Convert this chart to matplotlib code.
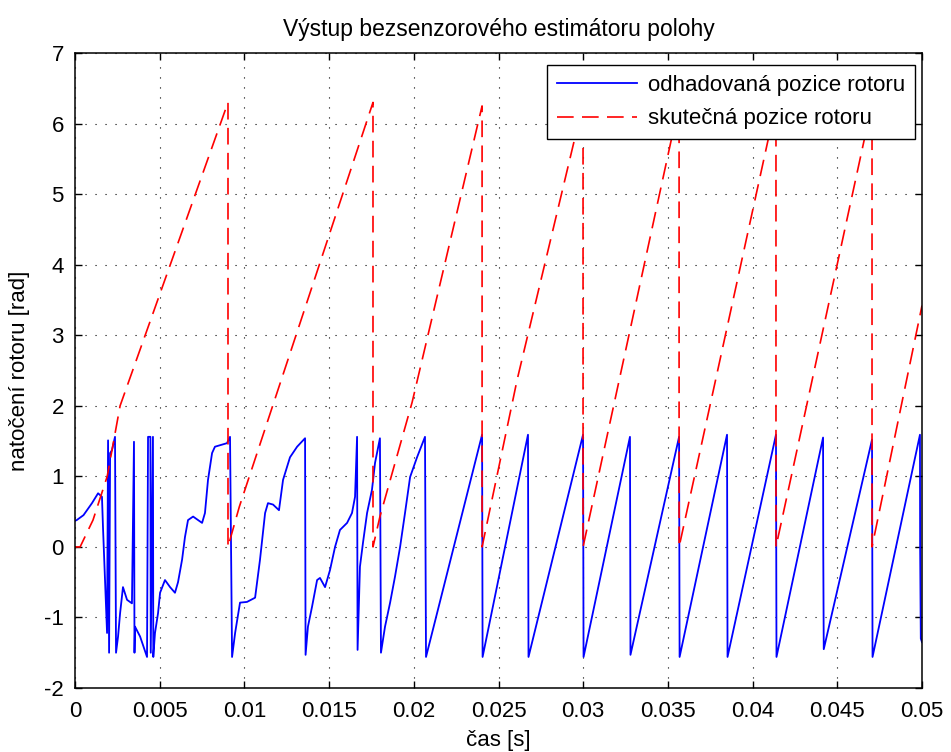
import matplotlib.pyplot as plt
import numpy as np

plt.rcParams['font.family'] = ['Liberation Sans', 'DejaVu Sans']
plt.rcParams['axes.unicode_minus'] = False

# odhadovana pozice rotoru (cas [s], uhel [rad])
t_est = [0, 0.0001, 0.0005, 0.001, 0.00136, 0.00159, 0.00165, 0.00177, 0.00189,
         0.00195, 0.00201, 0.00207, 0.00218, 0.00236, 0.00242, 0.00254, 0.00266,
         0.00283, 0.00307, 0.00336, 0.00348, 0.00351, 0.00354, 0.00384, 0.00425,
         0.00431, 0.00445, 0.00447, 0.0046, 0.00462, 0.00472, 0.0049, 0.00502, 0.00531, 0.00561,
         0.0059, 0.00608, 0.00632, 0.00649, 0.00667, 0.00697, 0.0075, 0.00767,
         0.00785, 0.00809, 0.00826, 0.00897, 0.00915, 0.00927, 0.00945, 0.00974,
         0.01015, 0.01063, 0.01092, 0.01122, 0.01139, 0.01169, 0.01204, 0.01228,
         0.01269, 0.01311, 0.01358, 0.01361, 0.01375, 0.01399, 0.01429, 0.01446,
         0.01476, 0.01505, 0.01535, 0.01564, 0.01606, 0.01635, 0.01653, 0.01665,
         0.01668, 0.01682, 0.017, 0.01724, 0.01753, 0.01771, 0.018, 0.01806,
         0.0183, 0.0186, 0.01889, 0.01919, 0.01948, 0.01978, 0.02019, 0.02066,
         0.02072,
         0.02403, 0.02406, 0.02674, 0.02677, 0.02999, 0.03002, 0.03276, 0.03279,
         0.03566, 0.03569, 0.03849, 0.03852, 0.04138, 0.04141, 0.04416, 0.04417,
         0.0442, 0.04705, 0.04708, 0.04988, 0.04989, 0.04993, 0.05]
y_est = [0.37, 0.38, 0.45, 0.62, 0.76, 0.71, 0.28, -0.47, -1.22,
         1.51, -1.5, 1.33, 1.37, 1.56, -1.5, -1.27, -0.94,
         -0.57, -0.75, -0.8, 1.49, -1.5, -1.13, -1.27, -1.56,
         1.56, 1.56, -1.5, 1.56, -1.56, -1.22, -0.94, -0.65, -0.47, -0.57,
         -0.65, -0.5, -0.18, 0.14, 0.38, 0.43, 0.34, 0.48,
         0.95, 1.33, 1.42, 1.47, 1.56, -1.56, -1.22, -0.79,
         -0.78, -0.72, -0.18, 0.48, 0.62, 0.6, 0.52, 0.95,
         1.27, 1.42, 1.54, -1.53, -1.13, -0.85, -0.47, -0.44,
         -0.57, -0.33, 0.0, 0.24, 0.34, 0.48, 0.71, 1.56,
         -1.46, -0.28, 0.06, 0.48, 0.81, 1.19, 1.54, -1.5,
         -1.13, -0.79, -0.42, 0.0, 0.48, 0.99, 1.27, 1.56,
         -1.56,
         1.59, -1.56, 1.59, -1.56, 1.59, -1.56, 1.56, -1.53,
         1.56, -1.56, 1.59, -1.56, 1.59, -1.56, 1.55, 0.0,
         -1.45, 1.52, -1.56, 1.59, 0.0, -1.3, -1.35]

# skutecna pozice rotoru
t_real = [0, 0.0003, 0.00106, 0.0019, 0.00266, 0.00903, 0.00903, 0.0097, 0.01759,
          0.01759, 0.018, 0.0199, 0.02403, 0.02403, 0.0261, 0.02999, 0.02999,
          0.03566, 0.03566, 0.04138, 0.04138, 0.04705, 0.04705, 0.05]
y_real = [0, 0, 0.38, 1.0, 2.0, 6.3, 0, 0.57, 6.3,
          0, 0.43, 2.05, 6.25, 0, 2.37, 6.28, 0,
          6.28, 0, 6.28, 0, 6.28, 0, 3.42]

xtick_labels = ['0', '0.005', '0.01', '0.015', '0.02', '0.025', '0.03',
                '0.035', '0.04', '0.045', '0.05']

fig = plt.figure(figsize=(9.51, 7.52), dpi=100)
ax = fig.add_axes([0.0789, 0.0851, 0.8906, 0.8444])

ax.plot(t_est, y_est, color='#0000ff', lw=1.3, label='odhadovaná pozice rotoru')
ax.plot(t_real, y_real, color='#ff0000', lw=1.2, dashes=(10, 5),
        label='skutečná pozice rotoru')

ax.set_xlim(0, 0.05)
ax.set_ylim(-2, 7)
ax.set_xticks(np.arange(0, 0.0501, 0.005))
ax.set_xticklabels(xtick_labels)
ax.set_yticks(range(-2, 8))
ax.grid(True, color='black', linestyle=(0, (1, 8)), lw=0.8)
ax.tick_params(direction='in', top=True, right=True, length=5, width=1,
               labelsize=16)
ax.tick_params(axis='x', pad=9)
ax.tick_params(axis='y', pad=8)
for s in ax.spines.values():
    s.set_linewidth(1.1)

ax.set_title('Výstup bezsenzorového estimátoru polohy', fontsize=16.5, pad=12)
ax.set_xlabel('čas [s]', fontsize=16, labelpad=6)
ax.set_ylabel('natočení rotoru [rad]', fontsize=16, labelpad=10)

leg = ax.legend(loc='upper right', bbox_to_anchor=(0.9917, 0.981),
                borderaxespad=0, fontsize=16, handlelength=3.6,
                fancybox=False, framealpha=1, edgecolor='black',
                borderpad=0.45, labelspacing=0.55, handletextpad=0.5)
leg.get_frame().set_linewidth(1.0)

fig.savefig('out.png', dpi=100)
